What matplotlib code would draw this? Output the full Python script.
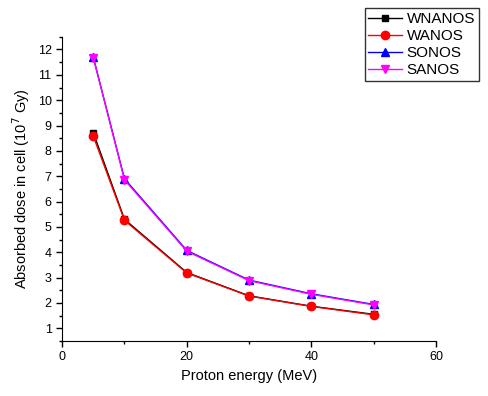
import matplotlib.pyplot as plt
from matplotlib.ticker import MultipleLocator

plt.rcParams['font.family'] = ['Liberation Sans', 'DejaVu Sans']

energy = [5, 10, 20, 30, 40, 50]
wnanos = [8.72, 5.30, 3.20, 2.28, 1.87, 1.55]
wanos = [8.58, 5.26, 3.18, 2.27, 1.86, 1.53]
sonos = [11.70, 6.90, 4.07, 2.90, 2.36, 1.94]
sanos = [11.68, 6.86, 4.04, 2.88, 2.34, 1.92]

fig = plt.figure(figsize=(4.89, 3.96), dpi=100)
ax = fig.add_axes([0.127, 0.139, 0.765, 0.768])

ax.plot(energy, wnanos, color='black', marker='s', markersize=5, lw=1, label='WNANOS')
ax.plot(energy, wanos, color='red', marker='o', markersize=6, lw=1, label='WANOS')
ax.plot(energy, sonos, color='blue', marker='^', markersize=6, lw=1, label='SONOS')
ax.plot(energy, sanos, color='magenta', marker='v', markersize=6, lw=1, label='SANOS')

ax.set_xlim(0, 60)
ax.set_ylim(0.5, 12.5)
ax.xaxis.set_major_locator(MultipleLocator(20))
ax.xaxis.set_minor_locator(MultipleLocator(10))
ax.yaxis.set_major_locator(MultipleLocator(1))
ax.yaxis.set_minor_locator(MultipleLocator(0.5))
ax.tick_params(which='major', direction='out', length=4, labelsize=9, width=1)
ax.tick_params(which='minor', direction='out', length=2.5, width=1)
ax.spines['top'].set_visible(False)
ax.spines['right'].set_visible(False)

ax.set_xlabel('Proton energy (MeV)', fontsize=10.5)
ax.set_ylabel('Absorbed dose in cell (10$^7$ Gy)', fontsize=10.5)

leg = fig.legend(loc='upper right', bbox_to_anchor=(0.995, 0.998), fontsize=11,
                 frameon=True, fancybox=False, edgecolor='black', handlelength=2.2,
                 labelspacing=0.2, borderpad=0.25, handletextpad=0.3)
leg.get_frame().set_linewidth(1)

fig.savefig('out.png', dpi=100)
